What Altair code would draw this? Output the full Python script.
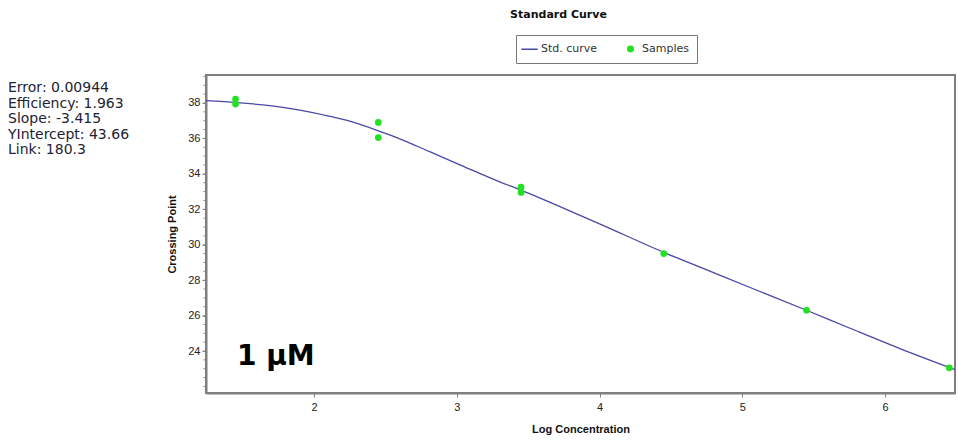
import altair as alt
import pandas as pd

# ---- data ----
curve_x = [1.24, 1.46, 1.69, 1.90, 2.11, 2.25, 2.46, 2.60, 2.81, 3.03, 3.30, 3.45,
           3.65, 4.00, 4.47, 4.70, 5.05, 5.45, 5.75, 6.10, 6.49]
curve_y = [38.13, 38.02, 37.85, 37.60, 37.25, 36.97, 36.40, 35.98, 35.25, 34.48, 33.55, 33.08,
           32.40, 31.18, 29.50, 28.75, 27.60, 26.30, 25.30, 24.15, 22.95]

sample_x = [1.45, 1.45, 2.45, 2.45, 3.45, 3.45, 4.45, 5.45, 6.45]
sample_y = [38.22, 37.94, 36.90, 36.05, 33.25, 32.95, 29.50, 26.30, 23.05]

series_names = ["Std. curve", "Samples"]
series_colors = ["#4848a8", "#22e022"]
series_shapes = ["M-3,0H3", "circle"]

stats_lines = ["Error: 0.00944", "Efficiency: 1.963", "Slope: -3.415",
               "YIntercept: 43.66", "Link: 180.3"]
x_ticks = [2, 3, 4, 5, 6]
y_ticks = [24, 26, 28, 30, 32, 34, 36, 38]
y_minor = [v / 2 for v in range(44, 80)]
x_domain = [1.243, 6.49]
y_domain = [21.63, 39.58]
label_text = ["1 µM"]
label_pos_x = [1.46]
label_pos_y = [23.66]

curve_df = pd.DataFrame({"x": curve_x, "y": curve_y, "series": series_names[0]})
sample_df = pd.DataFrame({"x": sample_x, "y": sample_y, "series": series_names[1]})
label_df = pd.DataFrame({"x": label_pos_x, "y": label_pos_y, "t": label_text})
minor_df = pd.DataFrame({"y": y_minor})

FONT = "Liberation Sans"
WIDE = "DejaVu Sans"

xs = alt.Scale(domain=x_domain, nice=False, zero=False)
ys = alt.Scale(domain=y_domain, nice=False, zero=False)

legend = alt.Legend(
    title=None, orient="none", legendX=310, legendY=-40, direction="horizontal",
    strokeColor="#777777", fillColor="white", padding=8, columnPadding=26,
    labelFont=WIDE, labelFontSize=11, labelColor="#333333", symbolSize=30,
    symbolStrokeWidth=1.5, labelOffset=6, cornerRadius=0,
)
color = alt.Color("series:N", scale=alt.Scale(domain=series_names, range=series_colors), legend=legend)
shape = alt.Shape("series:N", scale=alt.Scale(domain=series_names, range=series_shapes), legend=legend)

x_axis = alt.Axis(values=x_ticks, title="Log Concentration", tickSize=4, labelFontSize=11,
                  labelPadding=4, titlePadding=11, grid=False, format="d")
y_axis = alt.Axis(values=y_ticks, title="Crossing Point", tickSize=4, labelFontSize=11,
                  labelPadding=2, titlePadding=10, grid=False, format="d", orient="left")

line = alt.Chart(curve_df).mark_line(strokeWidth=1.3, interpolate="monotone", clip=True).encode(
    x=alt.X("x:Q", scale=xs, axis=x_axis),
    y=alt.Y("y:Q", scale=ys, axis=y_axis),
    color=color,
)

minor = alt.Chart(minor_df).mark_rule(color="#808080", strokeWidth=1).encode(
    y=alt.Y("y:Q", scale=ys),
    x=alt.value(-2.5),
    x2=alt.value(0),
)

points = alt.Chart(sample_df).mark_point(filled=True, size=45, opacity=1).encode(
    x=alt.X("x:Q", scale=xs),
    y=alt.Y("y:Q", scale=ys),
    color=color,
    shape=shape,
)

big_label = alt.Chart(label_df).mark_text(
    align="left", baseline="middle", font=WIDE, fontSize=28, fontWeight="bold", color="black"
).encode(x=alt.X("x:Q", scale=xs), y=alt.Y("y:Q", scale=ys), text="t:N")

stats = alt.Chart(pd.DataFrame({"a": [0]})).mark_text(
    align="left", baseline="top", font=WIDE, fontSize=14, lineHeight=15.5, color="#222233"
).encode(x=alt.value(-198), y=alt.value(6), text=alt.value(stats_lines))

chart = alt.layer(line, minor, points, big_label, stats).properties(
    width=749, height=318,
    title=alt.TitleParams("Standard Curve", fontSize=11, font=WIDE, fontWeight="bold",
                          anchor="middle", offset=15, dx=-22, color="#111111"),
    autosize=alt.AutoSizeParams(type="none"),
    padding={"left": 206, "top": 75, "right": 3, "bottom": 47},
    background="white",
).configure_view(stroke="#808080", strokeWidth=2).configure_axis(
    labelFont=FONT, titleFont=FONT, titleFontSize=11, titleFontWeight="bold", titleColor="#111111",
    labelColor="#222222", domainColor="#808080", domainWidth=2, tickColor="#808080",
)

chart.save("out.html", embed_options={"renderer": "svg", "actions": False})
